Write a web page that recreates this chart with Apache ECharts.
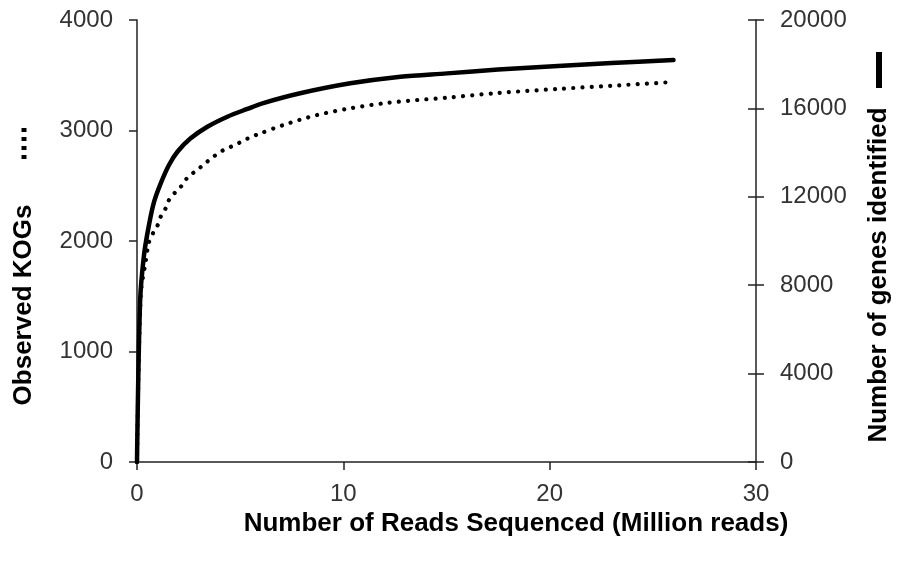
<!DOCTYPE html>
<html>
<head>
<meta charset="utf-8">
<script src="https://cdn.jsdelivr.net/npm/echarts@6/dist/echarts.min.js"></script>
<style>
  html, body { margin: 0; padding: 0; background: #fff; }
  #chart { width: 900px; height: 561px; }
</style>
</head>
<body>
<div id="chart"></div>
<script>
// Sequencing depth (million reads) and the genes identified at each depth
const readsGenes = [0, 0.15, 0.34, 0.58, 0.83, 1.15, 1.55, 1.96, 2.6, 3.41, 4.38, 5.35, 6.08, 7.91, 10.34, 12.77, 15.03, 17.5, 20.4, 23, 26];
const genes = [0, 7255, 9365, 10725, 11780, 12610, 13440, 14040, 14645, 15170, 15625, 15975, 16230, 16685, 17135, 17435, 17585, 17760, 17920, 18050, 18190];

// Sequencing depth (million reads) and the KOGs observed at each depth
const readsKOG = [0, 0.18, 0.42, 0.58, 0.83, 1.02, 1.15, 1.39, 1.55, 1.88, 2.2, 2.44, 2.8, 3.17, 3.5, 3.87, 4.26, 4.67, 5.06, 5.49, 5.87, 7.1, 8.72, 10.34, 11.96, 13.58, 15.03, 17.5, 20.4, 23, 26];
const kogs = [0, 1511, 1813, 1990, 2090, 2150, 2220, 2296, 2371, 2446, 2507, 2573, 2627, 2681, 2733, 2785, 2830, 2862, 2899, 2938, 2966, 3050, 3140, 3201, 3246, 3276, 3297, 3340, 3376, 3405, 3439];

const xTitle = 'Number of Reads Sequenced (Million reads)';
const leftTitle = 'Observed KOGs';
const rightTitle = 'Number of genes identified';

const FONT = '"Liberation Sans", Arial, sans-serif';
const AXIS_COLOR = '#222';
const LABEL_COLOR = '#333';

const pair = (xs, ys) => xs.map((x, i) => [x, ys[i]]);
const plain = v => String(v);

const chart = echarts.init(document.getElementById('chart'), null, { renderer: 'canvas' });

const labelStyle = { color: LABEL_COLOR, fontSize: 24, fontFamily: FONT, formatter: plain };
const axisLine = { show: true, lineStyle: { color: AXIS_COLOR, width: 1.5 } };
const tickLine = { color: AXIS_COLOR, width: 1.5 };

chart.setOption({
  animation: false,
  backgroundColor: '#fff',
  grid: { left: 137, right: 144, top: 20, bottom: 99, containLabel: false },
  xAxis: {
    type: 'value', min: 0, max: 30, interval: 10,
    axisLine: axisLine,
    axisTick: { show: true, length: 8, lineStyle: tickLine },
    axisLabel: Object.assign({ margin: 20 }, labelStyle),
    splitLine: { show: false }
  },
  yAxis: [
    {
      type: 'value', position: 'left', min: 0, max: 4000, interval: 1000,
      axisLine: axisLine,
      axisTick: { show: true, length: 8, lineStyle: tickLine },
      axisLabel: Object.assign({ margin: 24 }, labelStyle),
      splitLine: { show: false }
    },
    {
      type: 'value', position: 'right', min: 0, max: 20000, interval: 4000,
      axisLine: axisLine,
      axisTick: { show: true, length: 8, lineStyle: tickLine },
      axisLabel: Object.assign({ margin: 24 }, labelStyle),
      splitLine: { show: false }
    },
    {
      // inner half of the crossing ticks on the right axis
      type: 'value', position: 'right', min: 0, max: 20000, interval: 4000,
      axisLine: { show: false },
      axisTick: { show: true, inside: true, length: 8, lineStyle: tickLine },
      axisLabel: { show: false },
      splitLine: { show: false }
    }
  ],
  series: [
    {
      name: leftTitle,
      type: 'line',
      yAxisIndex: 0,
      data: pair(readsKOG, kogs),
      showSymbol: false,
      smooth: 0.3,
      lineStyle: { color: '#000', width: 4.2, type: [0.01, 9.2], cap: 'round' },
      z: 3
    },
    {
      name: rightTitle,
      type: 'line',
      yAxisIndex: 1,
      data: pair(readsGenes, genes),
      showSymbol: false,
      smooth: 0.3,
      lineStyle: { color: '#000', width: 4.5, type: 'solid', cap: 'round', join: 'round' },
      z: 4
    }
  ],
  graphic: [
    {
      type: 'text', x: 516, y: 524,
      style: { text: xTitle, font: 'bold 26px ' + FONT, fill: '#000', align: 'center', verticalAlign: 'middle' }
    },
    {
      type: 'text', x: 24, y: 305, rotation: Math.PI / 2,
      style: { text: leftTitle, font: 'bold 26px ' + FONT, fill: '#000', align: 'center', verticalAlign: 'middle' }
    },
    {
      type: 'text', x: 879, y: 275, rotation: Math.PI / 2,
      style: { text: rightTitle, font: 'bold 26px ' + FONT, fill: '#000', align: 'center', verticalAlign: 'middle' }
    },
    {
      // dotted key beside the KOG title
      type: 'line', shape: { x1: 24, y1: 128, x2: 24, y2: 161 },
      style: { stroke: '#000', lineWidth: 5, lineDash: [4, 5] }
    },
    {
      // solid key beside the genes title
      type: 'line', shape: { x1: 879, y1: 52, x2: 879, y2: 88 },
      style: { stroke: '#000', lineWidth: 6 }
    }
  ]
});
</script>
</body>
</html>
